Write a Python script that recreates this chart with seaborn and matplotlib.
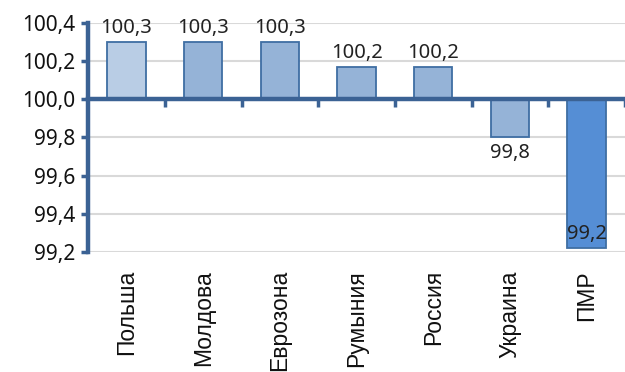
import numpy as np
import pandas as pd
import seaborn as sns
import matplotlib
matplotlib.use("Agg")
import matplotlib.pyplot as plt
from matplotlib.ticker import FuncFormatter, FixedLocator

countries = ["Польша", "Молдова", "Еврозона", "Румыния", "Россия", "Украина", "ПМР"]
values = [100.3, 100.3, 100.3, 100.17, 100.17, 99.8, 99.22]
labels = ["100,3", "100,3", "100,3", "100,2", "100,2", "99,8", "99,2"]
colors = ["#b9cde5", "#95b3d7", "#95b3d7", "#95b3d7", "#95b3d7", "#95b3d7", "#558ed5"]
base = 100.0

sns.set_style("white")
plt.rcParams["font.family"] = ["Noto Sans", "DejaVu Sans"]
axis_col = "#3b6294"

df = pd.DataFrame({"country": countries, "dev": np.array(values) - base})

fig = plt.figure(figsize=(6.25, 3.72), dpi=100)
ax = fig.add_axes([0.141, 0.323, 0.859, 0.615])

sns.barplot(data=df, x="country", y="dev", hue="country", palette=colors,
            saturation=1, legend=False, width=0.5, edgecolor="#3f6ea3",
            linewidth=1.3, ax=ax)

ymin, ymax = -0.8, 0.4
ax.set_ylim(ymin, ymax)
ax.set_xlim(-0.5, len(countries) - 0.5)
ax.yaxis.set_major_locator(FixedLocator([-0.8, -0.6, -0.4, -0.2, 0.0, 0.2, 0.4]))
ax.yaxis.set_major_formatter(FuncFormatter(lambda v, p: f"{base + v:.1f}".replace(".", ",")))
ax.yaxis.grid(True, color="#d9d9d9", lw=1.5)
ax.set_axisbelow(True)
ax.set_xlabel("")
ax.set_ylabel("")

for s in ["top", "right"]:
    ax.spines[s].set_visible(False)
ax.spines["left"].set_color(axis_col)
ax.spines["left"].set_linewidth(3.2)
# horizontal axis line at 100 with ticks between categories
ax.spines["bottom"].set_position(("data", 0.0))
ax.spines["bottom"].set_color(axis_col)
ax.spines["bottom"].set_linewidth(3.2)
ax.xaxis.set_minor_locator(FixedLocator(np.arange(0.5, len(countries), 1.0)))
ax.tick_params(axis="x", which="minor", direction="out", length=6, width=2.5,
               color=axis_col, bottom=True)
ax.tick_params(axis="y", direction="out", length=5, width=2.5, color=axis_col,
               labelsize=15, pad=4, labelcolor="#111111", left=True)
ax.tick_params(axis="x", which="major", length=0, rotation=90, pad=123,
               labelcolor="#111111")
for t in ax.get_xticklabels():
    t.set_fontfamily(["Liberation Sans", "DejaVu Sans"])
    t.set_fontsize(16.5)

# data labels
for i, (v, lab) in enumerate(zip(df["dev"], labels)):
    if v >= 0:
        ax.text(i, v + 0.02, lab, ha="center", va="bottom", fontsize=14.5, color="#222222")
    elif v - 0.15 < ymin:
        ax.text(i, v + 0.02, lab, ha="center", va="bottom", fontsize=14.5, color="#222222")
    else:
        ax.text(i, v - 0.03, lab, ha="center", va="top", fontsize=14.5, color="#222222")

fig.savefig("out.png", dpi=100)
